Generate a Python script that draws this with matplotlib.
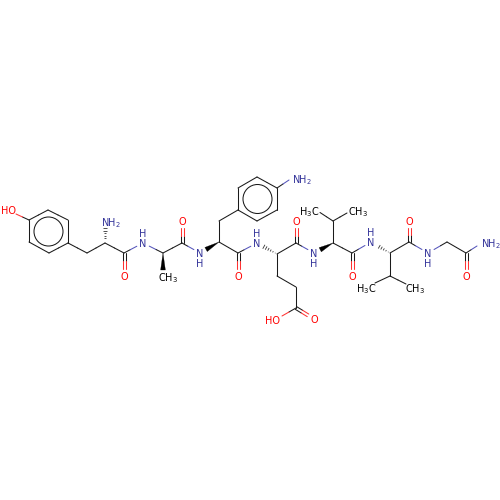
import math
import matplotlib
matplotlib.use("Agg")
import matplotlib.pyplot as plt
from matplotlib.patches import Polygon, Circle
from matplotlib.collections import LineCollection

plt.rcParams['mathtext.default'] = 'regular'
plt.rcParams['font.family'] = 'DejaVu Sans'

# atom: id, element, label, x, y
atoms = [
 ("o1","O","HO",8,210),("r1","C","",29,220),("r2","C","",48,210),("r3","C","",68,220),("r4","C","",68,243),
 ("r5","C","",49,253),("r6","C","",29,242),("c1","C","",87,253),("a1","C","",105,243),("n1","N","NH$_2$",111,221),
 ("k1","C","",124,253),("ko1","O","O",124,276),("n2","N","N",143,243),("a2","C","",163,253),("m2","C","CH$_3$",168.5,276),
 ("k2","C","",182,243),("ko2","O","O",182,221),("n3","N","N",200,253),("a3","C","",219,242),("c3","C","",219,221),
 ("s1","C","",238,210),("s2","C","",238,188),("s3","C","",257,177),("s4","C","",277,188),("s5","C","",277,210),("s6","C","",257,221),
 ("n4","N","NH$_2$",301.5,178),("k3","C","",238,253),("ko3","O","O",238,276),("n5","N","N",257,243),("a4","C","",277,254),
 ("b4","C","",277,276),("g4","C","",296,287),("d4","C","",296,308),("do1","O","O",314,319),("do2","O","HO",273,320),
 ("k4","C","",296,243),("ko4","O","O",296,221),("n6","N","N",314,253),("a5","C","",333,243),("b5","C","",333,221),
 ("m5a","C","H$_3$C",309,210),("m5b","C","CH$_3$",358.5,210),("k5","C","",352,253),("ko5","O","O",352,276),("n7","N","N",371,242),
 ("a6","C","",390,253),("b6","C","",390,276),("m6a","C","H$_3$C",366.5,287),("m6b","C","CH$_3$",415.5,287),("k6","C","",409,242),
 ("ko6","O","O",409,221),("n8","N","N",428,253),("c7","C","",447,242),("k7","C","",466,253),("ko7","O","O",466,276),("n9","N","NH$_2$",490.5,242),
]
# bonds: from, to, style
bonds = [
 ("r1","o1","s"),("r1","r2","s"),("r2","r3","s"),("r3","r4","s"),("r4","r5","s"),("r5","r6","s"),("r6","r1","s"),
 ("r4","c1","s"),("c1","a1","s"),("a1","n1","h"),("a1","k1","s"),("k1","ko1","d"),("k1","n2","s"),("n2","a2","s"),
 ("a2","m2","w"),("a2","k2","s"),("k2","ko2","d"),("k2","n3","s"),("a3","n3","w"),("a3","c3","s"),("c3","s1","s"),
 ("s1","s2","s"),("s2","s3","s"),("s3","s4","s"),("s4","s5","s"),("s5","s6","s"),("s6","s1","s"),("s4","n4","s"),
 ("a3","k3","s"),("k3","ko3","d"),("k3","n5","s"),("a4","n5","h"),("a4","b4","s"),("b4","g4","s"),("g4","d4","s"),
 ("d4","do1","d"),("d4","do2","s"),("a4","k4","s"),("k4","ko4","d"),("k4","n6","s"),("a5","n6","w"),("a5","b5","s"),
 ("b5","m5a","s"),("b5","m5b","s"),("a5","k5","s"),("k5","ko5","d"),("k5","n7","s"),("a6","n7","h"),("a6","b6","s"),
 ("b6","m6a","s"),("b6","m6b","s"),("a6","k6","s"),("k6","ko6","d"),("k6","n8","s"),("n8","c7","s"),("c7","k7","s"),
 ("k7","ko7","d"),("k7","n9","s"),
]
# aromatic ring centres and the implicit H labels (above / below N)
rings = [(48.5,231.5),(257.5,199)]
ring_radius = 14.5
implicit_h = [("n2",-10),("n3",10),("n5",-10),("n6",10),("n7",-10),("n8",10)]

colours = {"C":"#000000","N":"#33339a","O":"#ff0000"}
bond_col = {"C":"#1a1a1a","N":"#5555bb","O":"#ff3333"}
pos = {a[0]:(a[3],a[4]) for a in atoms}
elem = {a[0]:a[1] for a in atoms}
label = {a[0]:a[2] for a in atoms}
# where a bond ends for atoms whose label is drawn off-centre
anchor = {"o1":(16,214),"n1":(105,227),"m2":(163,270),"n4":(289,180),"do2":(282,316),
          "m5a":(320,212.5),"m5b":(347,213),"m6a":(375,283),"m6b":(406,284),"n9":(477,246)}

fig = plt.figure(figsize=(5,5),dpi=100)
ax = fig.add_axes([0,0,1,1])
ax.set_xlim(0,500); ax.set_ylim(500,0); ax.axis("off")
LW = 0.75

def trim(p,q,d):
    L = math.dist(p,q)
    return (q[0]+(p[0]-q[0])*d/L, q[1]+(p[1]-q[1])*d/L)

def seg(a,b,off=0.0):
    p = anchor.get(a,pos[a]); q = anchor.get(b,pos[b])
    L = math.dist(p,q); nx,ny = -(q[1]-p[1])/L,(q[0]-p[0])/L
    p2,q2 = p,q
    if label[a] and a not in anchor: p2 = trim(q,p,7)
    if label[b] and b not in anchor: q2 = trim(p,q,7)
    p2 = (p2[0]+nx*off,p2[1]+ny*off); q2=(q2[0]+nx*off,q2[1]+ny*off)
    m = ((p2[0]+q2[0])/2,(p2[1]+q2[1])/2)
    ax.plot([p2[0],m[0]],[p2[1],m[1]],color=bond_col[elem[a]],lw=LW,solid_capstyle="round",zorder=2)
    ax.plot([m[0],q2[0]],[m[1],q2[1]],color=bond_col[elem[b]],lw=LW,solid_capstyle="round",zorder=2)

for a,b,st in bonds:
    if st=="s":
        seg(a,b)
    elif st=="d":
        seg(a,b,1.5); seg(a,b,-1.5)
    else:
        p=pos[a]; q=anchor.get(b,pos[b])
        if label[b] and b not in anchor: q=trim(p,q,7)
        L=math.dist(p,q); ux,uy=(q[0]-p[0])/L,(q[1]-p[1])/L; nx,ny=-uy,ux
        W=2.4
        if st=="w":
            ax.add_patch(Polygon([p,(q[0]+nx*W,q[1]+ny*W),(q[0]-nx*W,q[1]-ny*W)],closed=True,fc="#000000",ec="#000000",lw=0.2,zorder=2))
        else:
            t=2.0; ls=[]
            while t<L:
                w=W*t/L; c=(p[0]+ux*t,p[1]+uy*t)
                ls.append([(c[0]+nx*w,c[1]+ny*w),(c[0]-nx*w,c[1]-ny*w)]); t+=2.6
            ax.add_collection(LineCollection(ls,colors="#333333",linewidths=0.6,zorder=2))

for c in rings:
    ax.add_patch(Circle(c,ring_radius,fc="none",ec="#1a1a1a",lw=LW,zorder=2))

FS = 7.0
for a in atoms:
    if a[2]:
        ax.text(a[3],a[4],a[2],color=colours[a[1]],fontsize=FS,ha="center",va="center_baseline",zorder=3)
for n,dy in implicit_h:
    ax.text(pos[n][0],pos[n][1]+dy,"H",color=colours["N"],fontsize=FS,ha="center",va="center_baseline",zorder=3)

fig.savefig("out.png",dpi=100,facecolor="white")
